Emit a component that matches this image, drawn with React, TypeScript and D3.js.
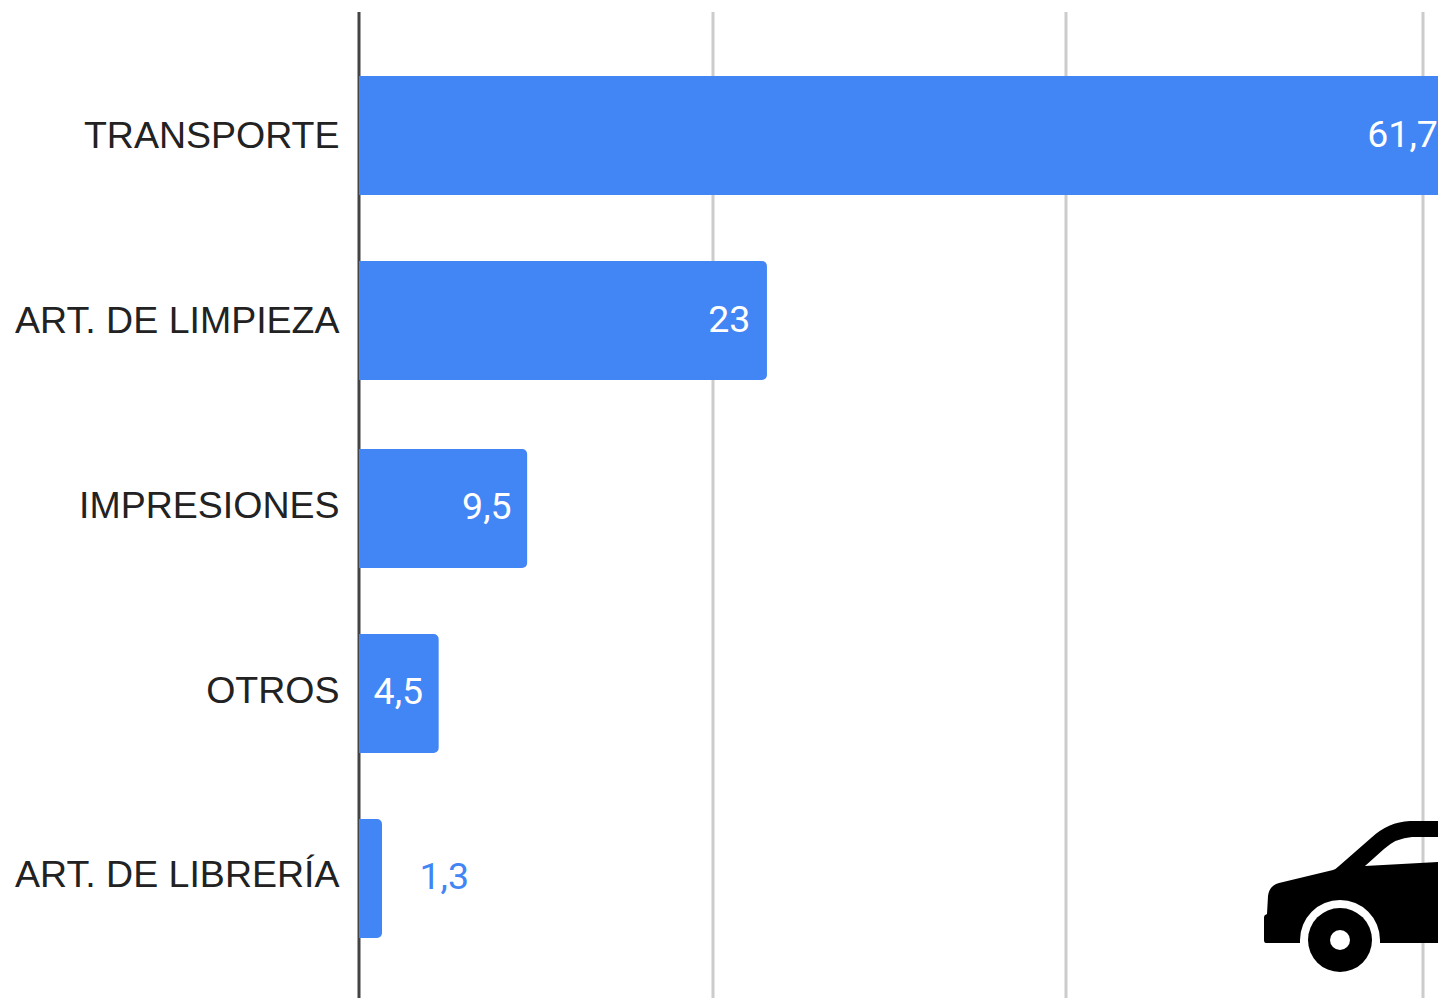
import React from "react";
import * as d3 from "d3";

const categories = ["TRANSPORTE", "ART. DE LIMPIEZA", "IMPRESIONES", "OTROS", "ART. DE LIBRERÍA"];
const values = [61.7, 23, 9.5, 4.5, 1.3];
const valueLabels = ["61,7", "23", "9,5", "4,5", "1,3"];
const gridTicks = [20, 40, 60];
const xStops = [0, 20, 40, 60];
const rowIndex = [0, 1, 2, 3, 4];

const W = 1438;
const H = 998;
const BLUE = "#4285f4";
const BAR_H = 119;

const x = d3.scaleLinear().domain(xStops).range([359, 713, 1066, 1423]);
const yBar = d3.scaleLinear().domain(rowIndex).range([76, 261, 449, 634, 819]);
const yCat = d3.scaleLinear().domain(rowIndex).range([148, 333, 518, 703, 887]);
const yVal = d3.scaleLinear().domain(rowIndex).range([147, 332, 519, 704, 889]);

function barPath(x0: number, x1: number, y0: number, y1: number, r: number) {
  const p = d3.path();
  p.moveTo(x0, y0);
  p.lineTo(x1 - r, y0);
  p.arcTo(x1, y0, x1, y0 + r, r);
  p.lineTo(x1, y1 - r);
  p.arcTo(x1, y1, x1 - r, y1, r);
  p.lineTo(x0, y1);
  p.closePath();
  return p.toString();
}

const CAR_BODY =
  "M1266,943 Q1264,943 1264,940 L1264,917 Q1264,915 1267,914 L1268,896 Q1269,886 1279,883 L1333,870 Q1336,869 1339,866 L1371,838 Q1388,822 1410,821 L1440,821 L1440,837 L1412,837 Q1396,838 1384,849 L1365,866 L1440,862 L1440,943 L1380,943 L1380,940 A40,40 0 0 0 1300,940 L1300,943 Z";

export default function App() {
  return (
    <svg
      width={W}
      height={H}
      viewBox={`0 0 ${W} ${H}`}
      style={{ position: "absolute", left: 0, top: 0, display: "block", background: "#fff" }}
    >
      {gridTicks.map((t) => (
        <line key={t} x1={x(t)} x2={x(t)} y1={12} y2={H} stroke="#cccccc" strokeWidth={3} />
      ))}
      <line x1={359} x2={359} y1={12} y2={H} stroke="#444444" strokeWidth={3} />
      {categories.map((c, i) => {
        const top = yBar(i);
        const outside = x(values[i]) - x(0) < 60;
        return (
          <g key={c}>
            <path d={barPath(x(0), x(values[i]) + (i === 1 ? 1 : 0), top, top + BAR_H, 5)} fill={BLUE} />
            <text
              x={339.5}
              y={yCat(i)}
              textAnchor="end"
              fontFamily="'Liberation Sans', Arial, sans-serif"
              fontSize={37.5}
              fill="#222222"
            >
              {c}
            </text>
            <text
              x={outside ? x(values[i]) + 37.5 : x(values[i]) - 15.5}
              y={yVal(i)}
              textAnchor={outside ? "start" : "end"}
              fontFamily="Roboto, sans-serif"
              fontSize={37.5}
              fill={outside ? BLUE : "#ffffff"}
            >
              {valueLabels[i]}
            </text>
          </g>
        );
      })}
      <path d={CAR_BODY} fill="#000000" />
      <circle cx={1340} cy={940} r={32} fill="#000000" />
      <circle cx={1340} cy={940} r={10} fill="#ffffff" />
    </svg>
  );
}
